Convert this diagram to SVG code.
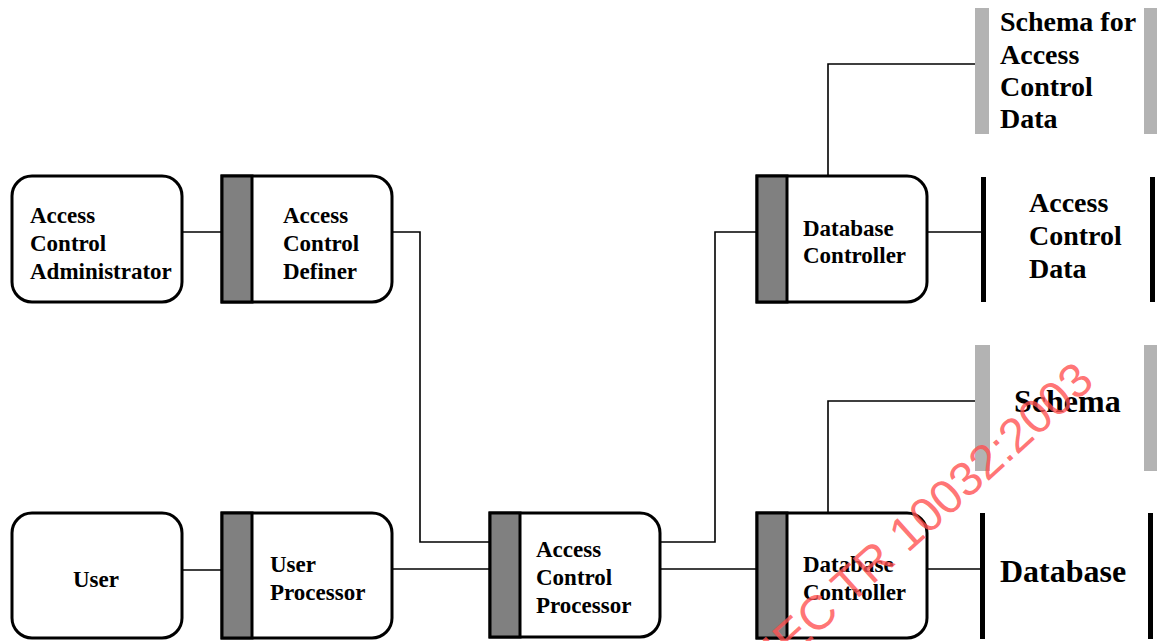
<svg xmlns="http://www.w3.org/2000/svg" width="1157" height="641" viewBox="0 0 1157 641">
<style>
  .box { fill: #fff; stroke: #000; stroke-width: 3; }
  .bar { fill: #808080; stroke: #000; stroke-width: 3; }
  .conn { fill: none; stroke: #000; stroke-width: 1.6; }
  .t { font-family: "Liberation Serif", "Times New Roman", serif; font-weight: bold; font-size: 23px; fill: #000; }
  .tl { font-family: "Liberation Serif", "Times New Roman", serif; font-weight: bold; font-size: 28px; fill: #000; }
  .tx { font-family: "Liberation Serif", "Times New Roman", serif; font-weight: bold; font-size: 32px; fill: #000; }
  .gbar { fill: #b3b3b3; }
  .kbar { fill: #000; }
  .wm { font-family: "Liberation Sans", Arial, sans-serif; font-size: 48px; fill: #ff5050; fill-opacity: 0.8; }
</style>
<rect width="1157" height="641" fill="#fff"/>
<g id="connectors">
  <path class="conn" d="M182 232 H222"/>
  <path class="conn" d="M392 232 H420 V542 H490"/>
  <path class="conn" d="M182 570 H222"/>
  <path class="conn" d="M392 569 H490"/>
  <path class="conn" d="M660 542 H715 V232 H757"/>
  <path class="conn" d="M660 569 H757"/>
  <path class="conn" d="M927 232 H982"/>
  <path class="conn" d="M927 569 H982"/>
  <path class="conn" d="M828 176 V64 H983"/>
  <path class="conn" d="M828 513 V401 H983"/>
</g>
<g id="admin">
  <rect class="box" x="12" y="176" width="170" height="126" rx="20"/>
  <text class="t" x="30" y="223">Access</text>
  <text class="t" x="30" y="251">Control</text>
  <text class="t" x="30" y="279">Administrator</text>
</g>
<g id="definer">
  <path class="box" d="M222 176 H372 A20 20 0 0 1 392 196 V282 A20 20 0 0 1 372 302 H222 Z"/>
  <rect class="bar" x="222" y="176" width="30" height="126"/>
  <text class="t" x="283" y="223">Access</text>
  <text class="t" x="283" y="251">Control</text>
  <text class="t" x="283" y="279">Definer</text>
</g>
<g id="dbc-upper">
  <path class="box" d="M757 176 H907 A20 20 0 0 1 927 196 V282 A20 20 0 0 1 907 302 H757 Z"/>
  <rect class="bar" x="757" y="176" width="30" height="126"/>
  <text class="t" x="803" y="236">Database</text>
  <text class="t" x="803" y="263">Controller</text>
</g>
<g id="user">
  <rect class="box" x="12" y="513" width="170" height="125" rx="20"/>
  <text class="t" x="96" y="587" text-anchor="middle">User</text>
</g>
<g id="user-processor">
  <path class="box" d="M222 513 H372 A20 20 0 0 1 392 533 V618 A20 20 0 0 1 372 638 H222 Z"/>
  <rect class="bar" x="222" y="513" width="30" height="125"/>
  <text class="t" x="270" y="572">User</text>
  <text class="t" x="270" y="600">Processor</text>
</g>
<g id="acp">
  <path class="box" d="M490 513 H640 A20 20 0 0 1 660 533 V617 A20 20 0 0 1 640 637 H490 Z"/>
  <rect class="bar" x="490" y="513" width="30" height="124"/>
  <text class="t" x="536" y="557">Access</text>
  <text class="t" x="536" y="585">Control</text>
  <text class="t" x="536" y="613">Processor</text>
</g>
<g id="dbc-lower">
  <path class="box" d="M757 513 H907 A20 20 0 0 1 927 533 V618 A20 20 0 0 1 907 638 H757 Z"/>
  <rect class="bar" x="757" y="513" width="30" height="125"/>
  <text class="t" x="803" y="572">Database</text>
  <text class="t" x="803" y="600">Controller</text>
</g>
<g id="schema-acd">
  <rect class="gbar" x="975" y="8" width="14" height="126"/>
  <rect class="gbar" x="1144" y="8" width="14" height="126"/>
  <text class="tl" x="1000" y="31">Schema for</text>
  <text class="tl" x="1000" y="64">Access</text>
  <text class="tl" x="1000" y="96">Control</text>
  <text class="tl" x="1000" y="128">Data</text>
</g>
<g id="acd">
  <rect class="kbar" x="981" y="177" width="5" height="125"/>
  <rect class="kbar" x="1150" y="177" width="5" height="125"/>
  <text class="tl" x="1029" y="212">Access</text>
  <text class="tl" x="1029" y="245">Control</text>
  <text class="tl" x="1029" y="278">Data</text>
</g>
<g id="schema">
  <rect class="gbar" x="975" y="345" width="15" height="126"/>
  <rect class="gbar" x="1144" y="345" width="14" height="126"/>
  <text class="tx" x="1014" y="412">Schema</text>
</g>
<g id="database">
  <rect class="kbar" x="980" y="513" width="5" height="126"/>
  <rect class="kbar" x="1148" y="513" width="5" height="126"/>
  <text class="tx" x="1000" y="582">Database</text>
</g>
<g id="watermark">
  <text class="wm" x="0" y="0" text-anchor="end" transform="translate(1096 384) rotate(-42)">ISO/IEC TR 10032:2003</text>
</g>
</svg>
